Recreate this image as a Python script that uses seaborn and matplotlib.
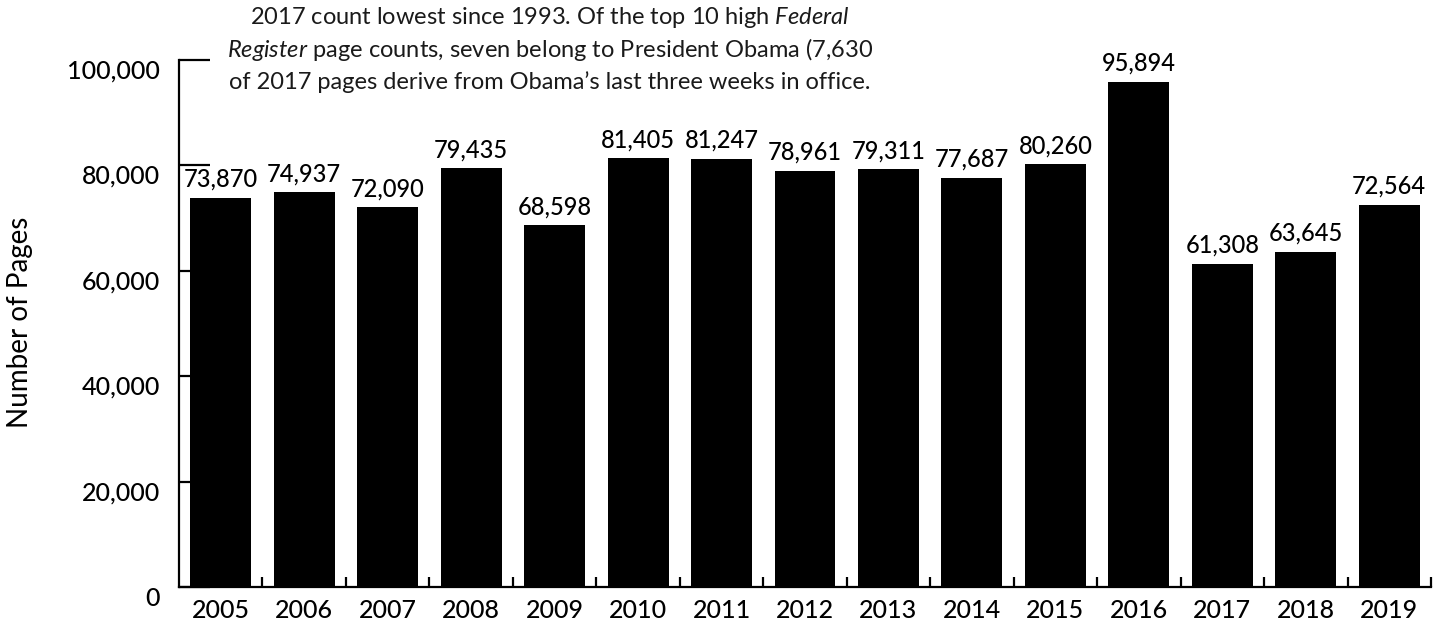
import matplotlib
matplotlib.use("Agg")
import matplotlib.pyplot as plt
import matplotlib.transforms as mtransforms
from matplotlib.ticker import FixedLocator, FuncFormatter
import seaborn as sns
import pandas as pd

years = ["2005", "2006", "2007", "2008", "2009", "2010", "2011", "2012",
         "2013", "2014", "2015", "2016", "2017", "2018", "2019"]
pages = [73870, 74937, 72090, 79435, 68598, 81405, 81247, 78961,
         79311, 77687, 80260, 95894, 61308, 63645, 72564]
y_ticks = [0, 20000, 40000, 60000, 80000, 100000]
note_lines = [
    "2017 count lowest since 1993. Of the top 10 high $\\it{Federal}$",
    "$\\it{Register}$ page counts, seven belong to President Obama (7,630",
    "of 2017 pages derive from Obama\u2019s last three weeks in office.",
]

sns.set_theme(style="white")
plt.rcParams["font.family"] = ["Lato", "DejaVu Sans"]
plt.rcParams["mathtext.fontset"] = "custom"
plt.rcParams["mathtext.it"] = "Lato:italic"
plt.rcParams["mathtext.rm"] = "Lato"

df = pd.DataFrame({"year": years, "pages": pages})

fig = plt.figure(figsize=(14.42, 6.38), dpi=100)
ax = fig.add_axes([179 / 1442, (638 - 587) / 638, (1431 - 179) / 1442, (587 - 60) / 638])

sns.barplot(data=df, x="year", y="pages", color="black", width=0.73,
            saturation=1, ax=ax)
for p in ax.patches:
    p.set_edgecolor("none")

ax.set_xlim(-0.5, len(years) - 0.5)
ax.set_ylim(0, 100000)

ax.bar_label(ax.containers[0], labels=[f"{v:,}" for v in pages],
             padding=5, fontsize=17, fontweight="medium", color="black",
             clip_on=False)

for side in ("top", "right"):
    ax.spines[side].set_visible(False)
for side in ("left", "bottom"):
    ax.spines[side].set_color("black")
    ax.spines[side].set_linewidth(1.6)

ax.yaxis.set_major_locator(FixedLocator(y_ticks))
ax.yaxis.set_major_formatter(FuncFormatter(lambda v, _: f"{int(v):,}"))
ax.tick_params(axis="y", direction="in", length=22, width=1.6, color="black",
               labelsize=18, pad=13.5, left=True)
ax.tick_params(axis="x", which="major", length=0, labelsize=18, pad=9)
ax.xaxis.set_minor_locator(FixedLocator([i + 0.5 for i in range(len(years))]))
ax.tick_params(axis="x", which="minor", direction="in", length=7, width=1.6,
               color="black", bottom=True)

# y tick labels sit slightly below their tick marks
shift = mtransforms.ScaledTranslation(0, -9 / 100, fig.dpi_scale_trans)
for lab in ax.get_yticklabels():
    lab.set_transform(lab.get_transform() + shift)
for lab in ax.get_xticklabels() + ax.get_yticklabels():
    lab.set_color("black")
    lab.set_fontweight("medium")

ax.set_xlabel("")
ax.set_ylabel("Number of Pages", fontsize=20, color="black")
ax.yaxis.set_label_coords((33 - 179) / 1252, (587 - 322) / 527)

for i, line in enumerate(note_lines):
    fig.text(550 / 1442, 1 - (17 + 32.5 * i) / 638, line, ha="center",
             va="center", fontsize=17, color="#1a1a1a")

fig.savefig("out.png", dpi=100)
